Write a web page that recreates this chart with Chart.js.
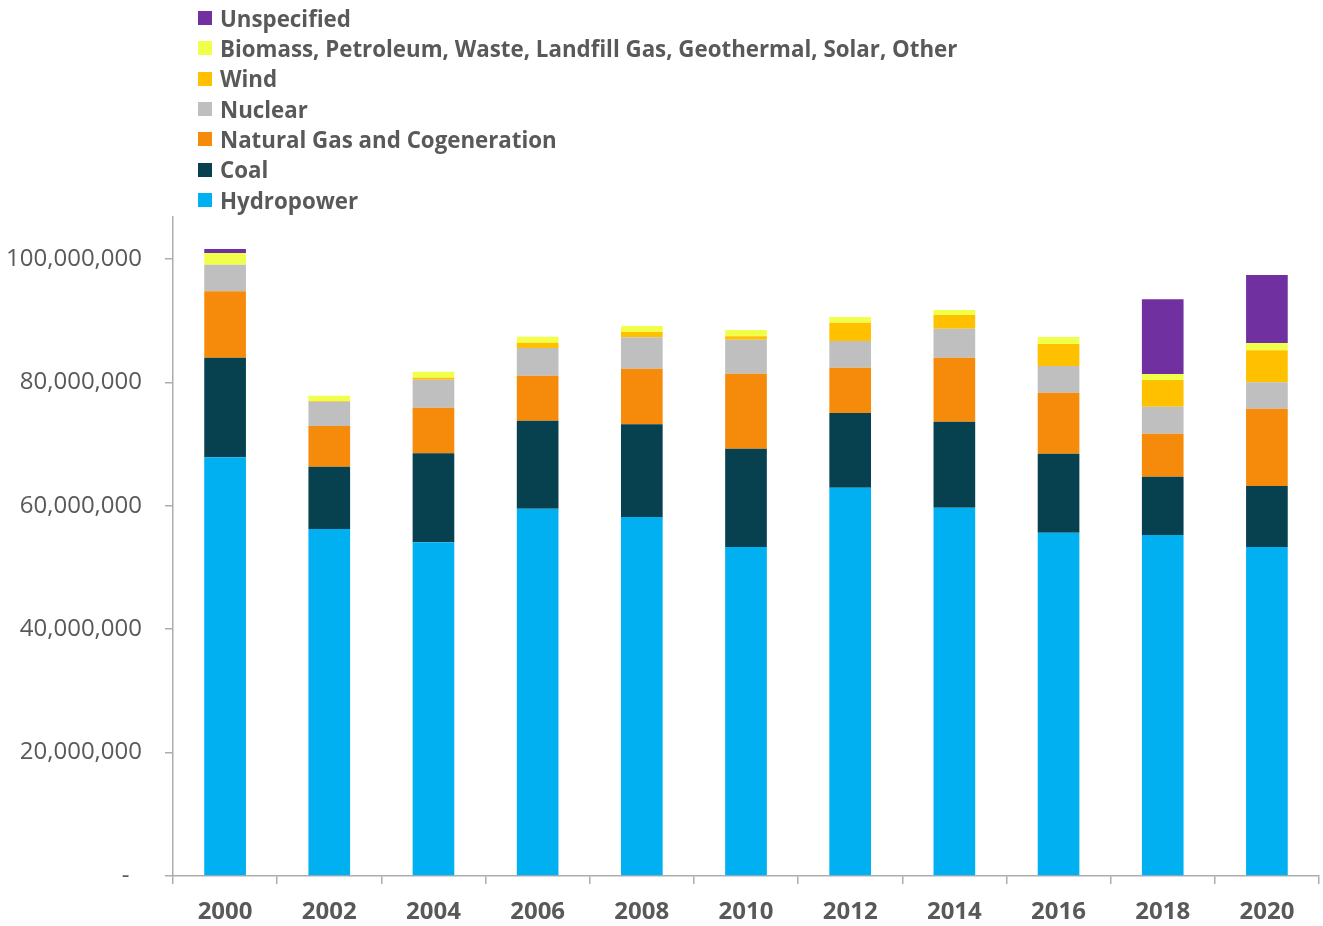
<!DOCTYPE html>
<html>
<head>
<meta charset="utf-8">
<script src="https://cdn.jsdelivr.net/npm/chart.js@4.4.1/dist/chart.umd.min.js"></script>
<style>
  html, body { margin: 0; padding: 0; background: #fff; }
  #wrap { position: relative; width: 1323px; height: 926px; }
  #legend { position: absolute; left: 198px; top: 3px; font-family: "Open Sans", sans-serif; font-weight: 700; font-size: 22.3px; color: #595959; }
  #legend .row { display: flex; align-items: center; height: 30.33px; white-space: nowrap; }
  #legend .box { width: 14px; height: 14px; margin-right: 8px; flex: none; }
</style>
</head>
<body>
<div id="wrap">
  <canvas id="c" width="1323" height="926"></canvas>
  <div id="legend"></div>
</div>
<script>
const years = ['2000', '2002', '2004', '2006', '2008', '2010', '2012', '2014', '2016', '2018', '2020'];
const hydropower = [67860000, 56240000, 54080000, 59530000, 58180000, 53320000, 62930000, 59690000, 55640000, 55270000, 53320000];
const coal       = [16140000, 10100000, 14430000, 14260000, 15030000, 15930000, 12110000, 13940000, 12800000, 9450000, 9890000];
const naturalGas = [10770000, 6590000, 7390000, 7300000, 9010000, 12160000, 7340000, 10370000, 9890000, 6970000, 12530000];
const nuclear    = [4310000, 3940000, 4540000, 4490000, 5090000, 5510000, 4330000, 4700000, 4330000, 4370000, 4280000];
const wind       = [0, 100000, 320000, 850000, 860000, 550000, 2970000, 2220000, 3560000, 4330000, 5180000];
const biomassEtc = [1890000, 870000, 970000, 980000, 970000, 1020000, 920000, 810000, 1140000, 970000, 1190000];
const unspecified = [630000, 0, 0, 0, 0, 0, 0, 0, 0, 12110000, 11020000];
const yTicks = [0, 20000000, 40000000, 60000000, 80000000, 100000000];

const seriesNames = ['Hydropower', 'Coal', 'Natural Gas and Cogeneration', 'Nuclear', 'Wind',
  'Biomass, Petroleum, Waste, Landfill Gas, Geothermal, Solar, Other', 'Unspecified'];
const seriesColors = ['#00B0F0', '#07404F', '#F68A0B', '#BFBFBF', '#FFC000', '#EFFF4A', '#7030A0'];
const seriesData = [hydropower, coal, naturalGas, nuclear, wind, biomassEtc, unspecified];

const axisColor = '#ADADAD';
const textColor = '#595959';

function build() {
  const datasets = seriesNames.map((n, i) => ({
    label: n,
    data: seriesData[i],
    backgroundColor: seriesColors[i],
    borderWidth: 0,
    categoryPercentage: 1.0,
    barPercentage: 0.4
  }));

  const chart = new Chart(document.getElementById('c'), {
    type: 'bar',
    data: { labels: years, datasets },
    options: {
      responsive: false,
      devicePixelRatio: 1,
      animation: false,
      layout: { padding: { top: 217, right: 4, left: 0, bottom: 0 } },
      plugins: { legend: { display: false }, tooltip: { enabled: false } },
      scales: {
        x: {
          stacked: true,
          grid: { display: true, drawOnChartArea: false, offset: true, tickLength: 8, color: axisColor, lineWidth: 1.5 },
          border: { color: axisColor, width: 1.5 },
          ticks: { font: { family: 'Open Sans', size: 24, weight: 'bold' }, color: textColor, padding: 14 },
          afterFit: s => { s.height = 50; }
        },
        y: {
          stacked: true,
          min: 0,
          max: 106800000,
          afterBuildTicks: s => { s.ticks = yTicks.map(v => ({ value: v })); },
          ticks: {
            font: { family: 'Open Sans', size: 24 },
            color: textColor,
            padding: 23,
            callback: v => v === 0 ? '-  ' : Number(v).toLocaleString('en-US')
          },
          grid: { display: true, drawOnChartArea: false, tickLength: 8, color: axisColor, lineWidth: 1.5 },
          border: { color: axisColor, width: 1.5 },
          afterFit: s => { s.width = 173; }
        }
      }
    }
  });

  const legend = document.getElementById('legend');
  chart.data.datasets.slice().reverse().forEach(ds => {
    const row = document.createElement('div');
    row.className = 'row';
    const box = document.createElement('span');
    box.className = 'box';
    box.style.background = ds.backgroundColor;
    const txt = document.createElement('span');
    txt.textContent = ds.label;
    row.appendChild(box);
    row.appendChild(txt);
    legend.appendChild(row);
  });
}

Promise.all([
  document.fonts.load('24px "Open Sans"'),
  document.fonts.load('bold 24px "Open Sans"')
]).then(build, build);
</script>
</body>
</html>
